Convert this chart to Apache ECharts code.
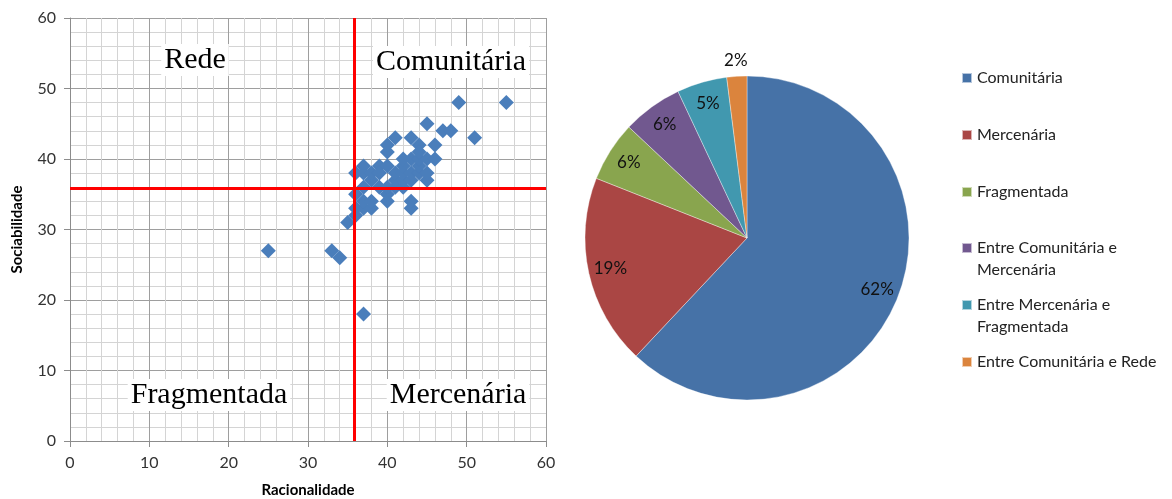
<!DOCTYPE html>
<html>
<head>
<meta charset="utf-8">
<script src="https://cdn.jsdelivr.net/npm/echarts@6/dist/echarts.min.js"></script>
<style>
  html, body { margin: 0; padding: 0; background: #fff; }
  #chart { width: 1172px; height: 499px; }
</style>
</head>
<body>
<div id="chart"></div>
<script>
// Scatter: each respondent's Racionalidade (x) and Sociabilidade (y) score
const racionalidade = [25, 33, 34, 37, 35, 36, 36, 36, 36, 37, 37, 37, 37, 37, 38, 38, 38, 38, 39, 39,
  40, 40, 40, 40, 40, 40, 41, 41, 41, 41, 42, 42, 42, 42, 43, 43, 43, 43, 43, 43,
  44, 44, 44, 44, 45, 45, 45, 45, 46, 46, 47, 48, 49, 51, 55, 44, 39, 42];
const sociabilidade = [27, 27, 26, 18, 31, 32, 33, 35, 38, 33, 34, 36, 38, 39, 33, 34, 37, 38, 36, 39,
  34, 35, 36, 39, 41, 42, 36, 37, 38, 43, 36, 37, 38, 39, 33, 34, 37, 38, 40, 43,
  38, 39, 40, 42, 37, 38, 40, 45, 40, 42, 44, 44, 48, 43, 48, 41, 38, 40];

// Quadrant dividers (x and y thresholds)
const corteX = 35.8;
const corteY = 35.8;

const axisTicks = [0, 10, 20, 30, 40, 50, 60];
const quadrantes = ['Rede', 'Comunitária', 'Fragmentada', 'Mercenária'];

// Pie: share of each community type (%)
const tipos = ['Comunitária', 'Mercenária', 'Fragmentada', 'Entre Comunitária e Mercenária',
  'Entre Mercenária e Fragmentada', 'Entre Comunitária e Rede'];
const percentuais = [62, 19, 6, 6, 5, 2];
const legendaTexto = ['Comunitária', 'Mercenária', 'Fragmentada', '\nEntre Comunitária e\nMercenária',
  '\nEntre Mercenária e\nFragmentada', 'Entre Comunitária e Rede'];
const coresPie = ['#4672a7', '#aa4644', '#89a54e', '#71588f', '#4198af', '#db843d'];

const pontos = racionalidade.map((x, i) => [x, sociabilidade[i]]);

const font = 'Lato, "Open Sans", sans-serif';
const serif = '"Liberation Serif", "DejaVu Serif", serif';

const cx = 747, cy = 238, R = 162;

// one legend block per entry, first text lines 57px apart
const legendTops = [78, 135, 192, 248, 305, 362];
const legends = tipos.map((nome, i) => {
  const multi = legendaTexto[i].startsWith('\n');
  return {
    data: [nome],
    orient: 'vertical',
    left: 961,
    top: legendTops[i] - (multi ? 33 : 11),
    padding: 0,
    itemWidth: 10,
    itemHeight: 10,
    icon: 'rect',
    selectedMode: false,
    formatter: () => legendaTexto[i],
    textStyle: { fontFamily: font, fontSize: 16, color: '#222', lineHeight: 22 }
  };
});

const axisCommon = {
  type: 'value',
  min: axisTicks[0],
  max: axisTicks[axisTicks.length - 1],
  interval: 10,
  axisLine: { show: true, lineStyle: { color: '#8c8c8c', width: 1 } },
  axisTick: { show: true, length: 6, lineStyle: { color: '#8c8c8c' } },
  axisLabel: { fontFamily: font, fontSize: 16, color: '#333', margin: 14 },
  splitLine: { show: true, lineStyle: { color: '#9e9e9e', width: 1 } },
  minorTick: { show: false, splitNumber: 5 },
  minorSplitLine: { show: true, lineStyle: { color: '#d4d4d4', width: 1 } },
  nameLocation: 'middle',
  nameTextStyle: { fontFamily: font, fontSize: 15, fontWeight: 'bold', color: '#000' }
};

// quadrant captions sit on a white box above the grid
const caption = (text, x, y) => ({
  type: 'text', x, y, z: 10,
  style: {
    text, font: '30px ' + serif, fill: '#000', align: 'center', verticalAlign: 'middle',
    backgroundColor: '#fff', padding: [1, 3, 1, 3]
  }
});

const option = {
  animation: false,
  backgroundColor: '#fff',
  grid: { left: 70, top: 18, right: 626, bottom: 58, containLabel: false, outerBoundsMode: 'none' },
  xAxis: Object.assign({}, axisCommon, { name: 'Racionalidade', nameGap: 42 }),
  yAxis: Object.assign({}, axisCommon, { name: 'Sociabilidade', nameGap: 45 }),
  legend: legends,
  graphic: [
    caption(quadrantes[0], 195, 60),
    caption(quadrantes[1], 451, 62),
    caption(quadrantes[2], 209, 395),
    caption(quadrantes[3], 458, 395)
  ],
  series: [
    {
      name: 'Respondentes',
      type: 'scatter',
      data: pontos,
      symbol: 'diamond',
      symbolSize: 15,
      itemStyle: { color: '#4a7ebb', opacity: 1 },
      z: 3,
      markLine: {
        silent: true,
        symbol: 'none',
        label: { show: false },
        lineStyle: { color: '#ff0000', width: 3, type: 'solid' },
        data: [{ xAxis: corteX }, { yAxis: corteY }],
        z: 4
      }
    },
    {
      name: 'Tipos',
      type: 'pie',
      center: [cx, cy],
      radius: [0, R],
      startAngle: 90,
      clockwise: true,
      avoidLabelOverlap: false,
      label: { show: false },
      labelLine: { show: false },
      itemStyle: { borderColor: 'rgba(255,255,255,0.6)', borderWidth: 0.6 },
      emphasis: { disabled: true },
      data: tipos.map((n, i) => ({ name: n, value: percentuais[i], itemStyle: { color: coresPie[i] } }))
    },
    {
      // label ring inside the pie
      name: 'rotulos',
      type: 'pie',
      center: [cx, cy],
      radius: [112, R],
      startAngle: 90,
      silent: true,
      legendHoverLink: false,
      avoidLabelOverlap: false,
      labelLine: { show: false },
      emphasis: { disabled: true },
      itemStyle: { color: 'rgba(0,0,0,0)' },
      label: { show: true, position: 'inside', formatter: '{c}%', fontFamily: font, fontSize: 17, color: '#111' },
      data: tipos.map((n, i) => ({ name: n, value: percentuais[i], label: { show: i < 5 } }))
    },
    {
      // label ring just outside the pie for the thin slice
      name: 'rotulosExternos',
      type: 'pie',
      center: [cx, cy],
      radius: [R, 188],
      startAngle: 90,
      silent: true,
      legendHoverLink: false,
      avoidLabelOverlap: false,
      labelLine: { show: false },
      emphasis: { disabled: true },
      itemStyle: { color: 'rgba(0,0,0,0)' },
      label: { show: true, position: 'inside', formatter: '{c}%', fontFamily: font, fontSize: 17, color: '#111' },
      data: tipos.map((n, i) => ({ name: n, value: percentuais[i], label: { show: i === 5 } }))
    }
  ]
};

const chart = echarts.init(document.getElementById('chart'), null, { renderer: 'canvas' });
chart.setOption(option);
</script>
</body>
</html>
